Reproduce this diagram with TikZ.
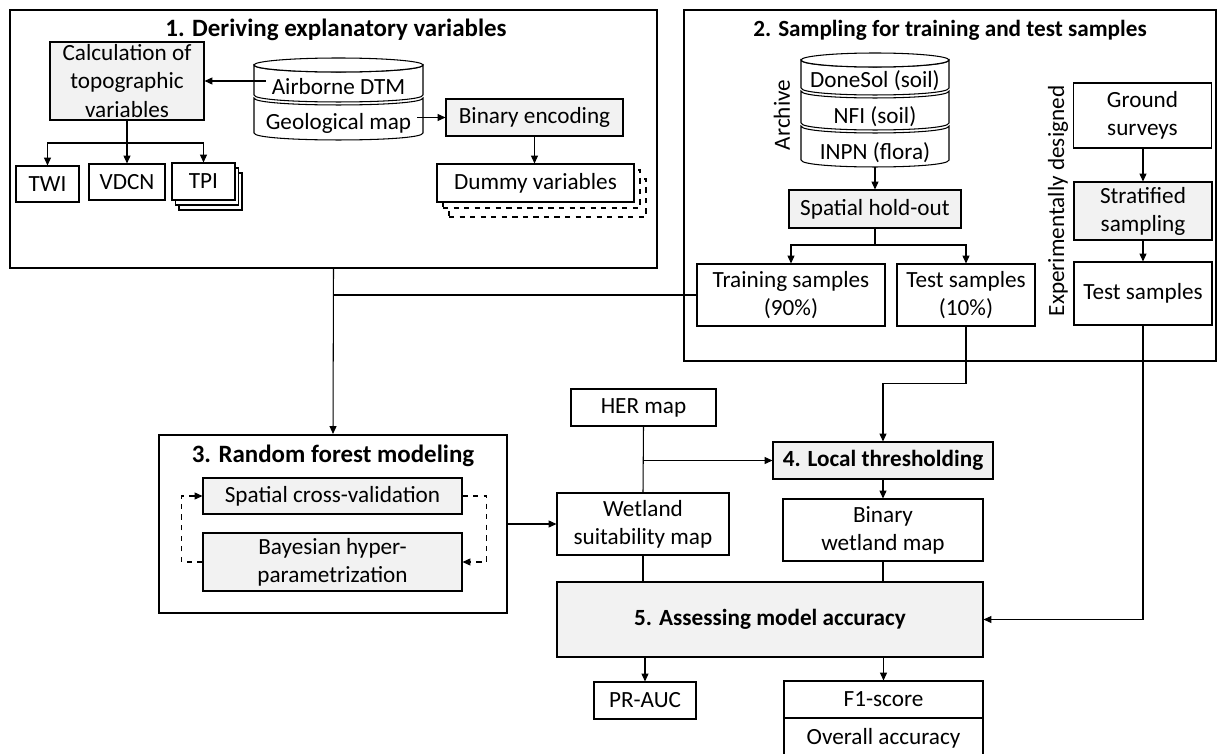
\documentclass[tikz,border=0pt]{standalone}
\usepackage{fontspec}
\setmainfont{Carlito}
\usetikzlibrary{arrows.meta}

% one slice of a database drum: cx, half width, top, bottom
\newcommand{\dbpart}[4]{%
  \draw[line width=0.6pt,fill=white] (#1-#2,#3) .. controls (#1-#2,#3+9.3) and (#1+#2,#3+9.3) .. (#1+#2,#3)
    -- (#1+#2,#4) .. controls (#1+#2,#4+9.3) and (#1-#2,#4+9.3) .. (#1-#2,#4) -- cycle;}
\newcommand{\dbtop}[3]{%
  \draw[line width=0.6pt,fill=white] (#1,#3) ellipse [x radius=#2, y radius=7];}

\begin{document}
\begin{tikzpicture}[x=0.02cm,y=-0.02cm,
  every node/.style={font=\fontsize{13.2}{16}\selectfont},
  sz/.style 2 args={minimum width=#1*0.02cm,minimum height=#2*0.02cm},
  box/.style={draw,line width=0.6pt,fill=white,inner sep=1pt,align=center},
  gbox/.style={box,fill=black!5},
  panel/.style={draw,line width=1.2pt,inner sep=0pt},
  ttl/.style={font=\fontsize{13.2}{16}\selectfont\bfseries},
  bigttl/.style={font=\fontsize{14.2}{17}\selectfont\bfseries},
  arr/.style={line width=0.6pt,-{Triangle[length=4.5pt,width=4pt]}},
  ln/.style={line width=0.6pt}]
\useasboundingbox (0,0) rectangle (1218,754);

% panels
\node[panel,sz={647}{258}] (p1) at (333.5,139) {};
\node[panel,sz={532}{351}] (p2) at (950,185.5) {};
\node[panel,sz={348}{178}] (p3) at (333,524) {};
\node[bigttl] (t1) at (336,30) {1. Deriving explanatory variables};
\node[ttl] (t2) at (950,30) {2. Sampling for training and test samples};
\node[bigttl] (t3) at (333,456) {3. Random forest modeling};

% 1. explanatory variables
\node[gbox,sz={154}{78}] (calc) at (127,81) {Calculation of\\topographic\\variables};
\dbpart{338.5}{84.5}{65}{95}
\dbpart{338.5}{84.5}{98}{133}
\dbtop{338.5}{84.5}{65}
\node (dtm) at (338.5,87) {Airborne DTM};
\node (geo) at (338.5,123) {Geological map};
\node[gbox,sz={177}{37}] (binenc) at (534.5,117.5) {Binary encoding};
\node[box,dashed,sz={197}{38}] (dum3) at (547.5,198) {};
\node[box,dashed,sz={197}{38}] (dum2) at (541.5,189) {};
\node[box,sz={197}{38}] (dummy) at (535.5,183) {Dummy variables};
\node[box,sz={63}{36}] (twi) at (47.5,184) {TWI};
\node[box,sz={76}{36}] (vdcn) at (127,182) {VDCN};
\node[box,sz={63}{37}] (tpi3) at (210.5,191.5) {};
\node[box,sz={63}{37}] (tpi2) at (207,186.5) {};
\node[box,sz={63}{37}] (tpi) at (203.5,181.5) {TPI};
\coordinate (split1) at (127,143);

\draw[arr] (calc.east -| dtm.west) -- (calc.east);
\draw[ln] (calc.south) -- (split1);
\draw[arr] (split1) -| (twi.north);
\draw[arr] (split1) -- (vdcn.north);
\draw[arr] (split1) -| (tpi.north);
\draw[arr] (geo.east |- binenc.west) -- (binenc.west);
\draw[arr] (binenc.south) -- (binenc.south |- dummy.north);

% 2. sampling
\dbpart{875}{74}{60}{88}
\dbpart{875}{74}{91}{123}
\dbpart{875}{74}{126}{160}
\dbtop{875}{74}{60}
\node (dsol) at (875,81) {DoneSol (soil)};
\node (nfi) at (875,117) {NFI (soil)};
\node (inpn) at (875,153) {INPN (flora)};
\coordinate (archbot) at (875,167);
\node[rotate=90] (arch) at (782,115) {Archive};
\node[rotate=90] (expd) at (1058,201) {Experimentally designed};
\node[gbox,sz={172}{38}] (hold) at (875,209) {Spatial hold-out};
\node[box,sz={188}{62}] (train) at (791,295) {Training samples\\(90\%)};
\node[box,sz={138}{62}] (test10) at (966,295) {Test samples\\(10\%)};
\node[box,sz={138}{65}] (ground) at (1142.5,115.5) {Ground\\surveys};
\node[gbox,sz={138}{58}] (strat) at (1143,211) {Stratified\\sampling};
\node[box,sz={138}{63}] (testexp) at (1143,293.5) {Test samples};
\coordinate (split2) at (875,245);

\draw[arr] (archbot) -- (hold.north);
\draw[ln] (hold.south) -- (split2);
\draw[arr] (split2) -| (train.north);
\draw[arr] (split2) -| (test10.north);
\draw[arr] (ground.south -| strat.north) -- (strat.north);
\draw[arr] (strat.south) -- (testexp.north);

% 3. modeling
\node[gbox,sz={259}{36}] (scv) at (332.5,496) {Spatial cross-validation};
\node[gbox,sz={259}{58}] (bayes) at (332.5,562) {Bayesian hyper-\\parametrization};
\draw[arr,dashed] (bayes.west) -- ++(-21,0) |- (scv.west);
\draw[arr,dashed] (scv.east) -- ++(24,0) |- (bayes.east);

\draw[arr] (p1.south) -- (p3.north);
\draw[ln] (train.west) -- (train.west -| p1.south);

% 4. and 5.
\node[box,sz={145}{37}] (her) at (643.5,407.5) {HER map};
\node[box,sz={172}{62}] (wet) at (643,524) {Wetland\\suitability map};
\node[gbox,sz={220}{37},ttl] (local) at (883,460.5) {4. Local thresholding};
\node[box,sz={200}{62}] (binwet) at (883,530) {Binary\\wetland map};
\node[gbox,sz={426}{75},ttl] (assess) at (770,619.5) {5. Assessing model accuracy};
\node[box,sz={102}{37}] (prauc) at (645,700.5) {PR-AUC};
\node[box,sz={199}{37}] (f1) at (883.5,699.5) {F1-score};
\node[box,sz={199}{40}] (oacc) at (883.5,738) {Overall accuracy};

\draw[arr] (p3.east |- wet.west) -- (wet.west);
\draw[ln] (her.south) -- (wet.north);
\draw[arr] (her.south |- local.west) -- (local.west);
\draw[arr] (test10.south) -- ++(0,57) -| (local.north);
\draw[arr] (local.south) -- (binwet.north);
\draw[ln] (wet.south) -- (wet.south |- assess.north);
\draw[ln] (binwet.south) -- (binwet.south |- assess.north);
\draw[arr] (testexp.south) |- (assess.east);
\draw[arr] (prauc.north |- assess.south) -- (prauc.north);
\draw[arr] (f1.north |- assess.south) -- (f1.north);
\end{tikzpicture}
\end{document}
